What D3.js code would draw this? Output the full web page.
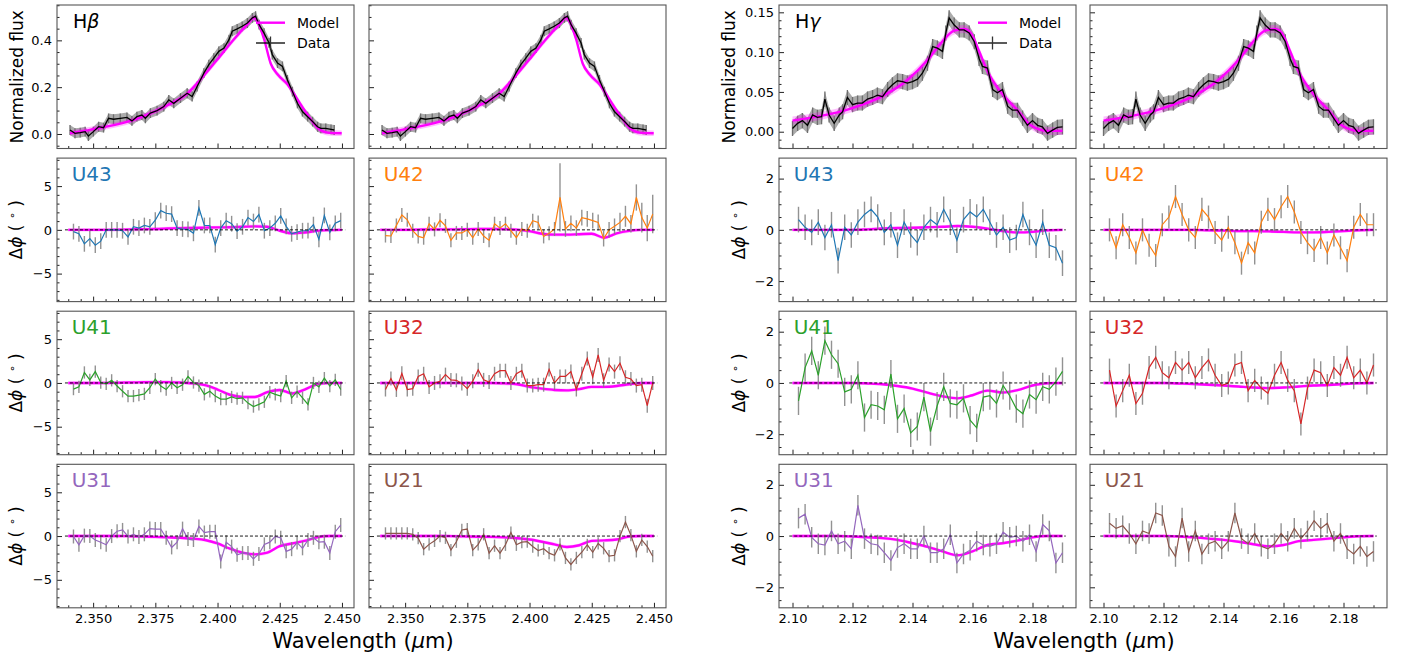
<!DOCTYPE html>
<html>
<head>
<meta charset="utf-8">
<script src="https://cdn.jsdelivr.net/npm/d3@7"></script>
<style>
body { margin: 0; background: #fff; }
text { font-family: "DejaVu Sans", sans-serif; }
</style>
</head>
<body>
<svg id="chart" width="1411" height="664"></svg>
<script>
//=======================================================================
// data
var baselines  = ["U43", "U42", "U41", "U32", "U31", "U21"];
var baseColors = ["#1f77b4", "#ff7f0e", "#2ca02c", "#d62728", "#9467bd", "#8c564b"];

// ---- H beta : normalized flux [wavelength, flux]
var hbFluxData = [[2.3407,0.017],[2.3427,0.003],[2.3448,0.006],[2.3468,0.010],[2.3481,-0.009],[2.3501,0.010],
  [2.3522,0.031],[2.3542,0.027],[2.3562,0.067],[2.3582,0.063],[2.3609,0.067],[2.3636,0.071],[2.3656,0.056],
  [2.3676,0.074],[2.3696,0.081],[2.3710,0.067],[2.3730,0.089],[2.3757,0.100],[2.3784,0.117],[2.3804,0.146],
  [2.3824,0.131],[2.3851,0.153],[2.3878,0.174],[2.3898,0.160],[2.3918,0.203],[2.3945,0.260],[2.3965,0.296],
  [2.3985,0.324],[2.4005,0.353],[2.4026,0.367],[2.4046,0.403],[2.4059,0.439],[2.4079,0.449],[2.4099,0.460],
  [2.4120,0.474],[2.4140,0.496],[2.4153,0.503],[2.4167,0.467],[2.4187,0.431],[2.4207,0.389],[2.4220,0.339],
  [2.4241,0.303],[2.4261,0.289],[2.4281,0.231],[2.4301,0.181],[2.4321,0.131],[2.4341,0.096],[2.4362,0.074],
  [2.4382,0.053],[2.4402,0.031],[2.4415,0.024],[2.4435,0.024],[2.4456,0.020],[2.4469,0.017]];
var hbFluxModel = [[2.3407,0.003],[2.3528,0.026],[2.3663,0.060],[2.3797,0.122],[2.3878,0.172],[2.3931,0.232],
  [2.3999,0.318],[2.4066,0.405],[2.4120,0.468],[2.4146,0.496],[2.4160,0.482],[2.4187,0.405],[2.4214,0.300],
  [2.4241,0.255],[2.4281,0.212],[2.4321,0.148],[2.4362,0.082],[2.4402,0.026],[2.4442,0.006],[2.4499,0.003]];
var hbFluxErr = 0.021;
var hbFluxModelBand = 0.012;

// ---- H beta : differential phases (deg), 50 points from 2.3421 to 2.4495 um
var hbPhiRange = [2.3421, 2.4495];
var hbPhiU43 = [-0.2,-0.45,-1.6,-1.0,-1.75,-1.3,0,0,0,-0.1,-0.8,0.35,0.2,0.5,0.35,1.1,2.2,1.9,1.8,0.2,
  0.1,0.05,-0.4,2.5,0.5,0.5,-1.7,0.2,1.05,0.7,-0.15,0.35,1.4,0.95,1.75,-0.1,0.2,0.75,1.6,0.4,
  -0.45,-0.25,-0.1,-0.1,0.6,-1.1,1.65,-0.3,0.75,1.05];
var hbPhiU42 = [-0.65,-0.7,0.5,1.7,1.15,-0.1,-0.75,-0.9,0.7,0.05,1.1,0.45,-1.2,-0.35,-0.35,0,-0.9,0.1,-0.7,-1.2,
  0.7,0.2,0.7,-0.1,-0.9,0.1,-0.1,1.05,0.85,-0.75,-0.4,0.1,3.7,0.1,0.75,0.2,1.4,1.25,1.05,0.85,
  -1.0,0,0.4,0.85,1.55,0.7,3.7,1.4,0.2,1.8];
var hbPhiU41 = [-0.7,-0.45,1.2,0.35,1.3,0.05,-0.1,0.3,-0.35,-0.95,-1.5,-1.5,-1.4,-1.25,-0.55,0.45,-0.35,-0.75,0,-0.55,
  -0.2,0.75,0.05,-0.3,-1.3,-0.95,-1.5,-1.85,-1.85,-1.6,-1.8,-1.7,-2.3,-2.7,-2.45,-2.15,-1.05,-1.3,-1.5,0.2,
  -1.7,-1.0,-1.7,-2.45,0,-0.45,0.55,-0.35,0.35,-0.75];
var hbPhiU32 = [-0.75,0.5,-0.8,1.1,-0.75,-0.65,0.75,1.05,-0.45,0,0.2,0.95,0.35,0.3,-0.05,-0.65,0.2,1.5,0.35,0.1,
  1.05,1.4,1.4,0,1.05,1.4,-0.3,-0.3,-0.2,-0.2,1.55,0,0.75,0.75,1.3,-0.75,1.05,2.8,0.65,3.2,
  0.3,2.1,1.3,2.25,0.65,0.45,-0.3,-0.2,-2.6,0];
var hbPhiU31 = [-0.05,-1.0,0.05,0,-0.45,-0.7,-1.0,0,0.55,0.7,-0.05,0.2,-0.1,0.2,0.85,0.8,0.8,-0.2,-1.3,-0.7,
  0.85,-0.35,-0.45,1.1,0.4,0.5,0.5,-2.9,-0.7,-1.2,-2.15,-1.95,-1.95,-2.6,-2.05,-0.95,-0.7,-0.05,-0.2,-1.75,
  -1.5,-0.75,-1.4,-0.45,-0.2,-0.7,-0.65,-1.95,0.5,1.25];
var hbPhiU21 = [0.3,0.3,0.3,0.3,0.3,0.2,-0.25,-1.5,-0.95,-0.55,0,-0.2,-1.6,-0.65,0.7,0.8,-1.6,-0.95,0.2,-1.95,
  -1.1,-1.95,-1.0,0.4,-1.0,-0.7,-0.65,-1.2,-1.65,-1.45,-1.95,-2.2,-0.95,-2.5,-3.25,-2.5,-1.85,-1.0,-1.85,-0.85,
  -1.4,-2.3,-2.2,0,1.6,0.1,-1.75,-0.45,-1.2,-2.3];
var hbPhiErr = [0.9, 0.85, 0.7, 0.8, 0.8, 0.7];
var hbErrU42 = [0.8,0.8,0.8,0.8,0.8,0.8,0.8,0.8,0.8,0.8,0.8,0.8,0.8,0.8,0.8,0.8,0.8,0.8,0.8,0.8,
  0.8,0.8,0.8,0.8,0.8,0.8,0.8,0.8,0.8,0.8,0.8,0.8,3.9,0.9,0.9,0.9,0.9,0.9,0.9,0.9,
  0.9,0.9,0.9,1.1,1.2,1.0,1.5,1.7,1.5,2.2];

// model phases on a 0.005 um grid
var hbModelWave = [2.340,2.345,2.350,2.355,2.360,2.365,2.370,2.375,2.380,2.385,2.390,2.395,
  2.400,2.405,2.410,2.415,2.420,2.425,2.430,2.435,2.440,2.445,2.450];
var hbModU43 = [0,0,0,0,0.02,0.05,0.08,0.1,0.15,0.2,0.22,0.25,0.28,0.3,0.35,0.4,0.35,-0.1,-0.4,-0.3,-0.12,-0.03,0];
var hbModU42 = [0,0,0,0.02,0.05,0.05,0.05,0.08,0.1,0.1,0.08,0.02,-0.15,-0.45,-0.55,-0.55,-0.5,-0.45,-0.9,-0.4,-0.12,0,0];
var hbModU41 = [0,0,0,0,0.03,0.05,0.08,0.1,0.1,0.05,-0.05,-0.25,-0.75,-1.35,-1.6,-1.6,-1.05,-0.8,-1.2,-0.75,-0.15,0,0];
var hbModU32 = [0,0,0,0,0,0,0,0,0,0,-0.05,-0.15,-0.45,-0.65,-0.8,-0.85,-0.7,-0.45,-0.45,-0.35,-0.15,0,0];
var hbModU31 = [0,0,0,0,0,-0.02,-0.05,-0.1,-0.15,-0.2,-0.3,-0.45,-0.85,-1.45,-1.9,-2.1,-1.9,-1.15,-0.85,-0.55,-0.15,0,0];
var hbModU21 = [0,0,0,0,0,0,-0.02,-0.05,-0.08,-0.1,-0.15,-0.25,-0.4,-0.65,-0.95,-1.25,-1.05,-0.55,-0.5,-0.4,-0.05,0,0];
var hbModelBand = 0.2;

// ---- H gamma : normalized flux
var hgFluxData = [[2.1000,0.004],[2.1017,0.0105],[2.1033,0.014],[2.1050,0.008],[2.1067,0.021],[2.1083,0.018],
  [2.1097,0.019],[2.1108,0.041],[2.1122,0.021],[2.1139,0.0105],[2.1156,0.021],[2.1167,0.025],[2.1183,0.043],
  [2.1200,0.034],[2.1217,0.036],[2.1233,0.036],[2.1250,0.041],[2.1267,0.043],[2.1283,0.046],[2.1300,0.044],
  [2.1317,0.053],[2.1333,0.059],[2.1350,0.064],[2.1367,0.063],[2.1383,0.061],[2.1400,0.063],[2.1417,0.066],
  [2.1433,0.0735],[2.1450,0.086],[2.1467,0.107],[2.1483,0.105],[2.1500,0.101],[2.1511,0.124],[2.1522,0.143],
  [2.1539,0.134],[2.1556,0.128],[2.1572,0.128],[2.1589,0.124],[2.1606,0.113],[2.1622,0.092],[2.1633,0.082],
  [2.1650,0.080],[2.1667,0.053],[2.1683,0.049],[2.1700,0.053],[2.1717,0.032],[2.1733,0.027],[2.1750,0.027],
  [2.1767,0.017],[2.1783,0.008],[2.1800,0.014],[2.1817,0.008],[2.1833,0.006],[2.1850,-0.002],[2.1867,0.002],
  [2.1883,0.0055],[2.1900,0.006]];
var hgFluxModel = [[2.1000,0.014],[2.1083,0.019],[2.1194,0.029],[2.1306,0.046],[2.1383,0.065],[2.1450,0.090],
  [2.1494,0.111],[2.1539,0.127],[2.1572,0.129],[2.1594,0.124],[2.1622,0.101],[2.1650,0.076],[2.1694,0.050],
  [2.1750,0.027],[2.1794,0.008],[2.1850,0.001],[2.1900,0.001]];
var hgFluxErr = 0.0095;
var hgFluxModelBand = 0.005;

// ---- H gamma : differential phases, 41 points from 2.102 to 2.190 um
var hgPhiRange = [2.102, 2.190];
var hgPhiU43 = [0.4,0.1,-0.1,0.3,-0.3,0.2,-1.2,0.1,-0.2,0.3,0.6,0.8,0.5,-0.1,0.2,-0.6,0.3,-0.2,-0.5,0.1,
  0.4,0.2,0.8,0.3,-0.4,0.4,0.7,0.5,0.8,0.3,-0.2,0.1,-0.4,-0.3,0.6,-0.1,-0.6,0.3,-0.6,-0.7,-1.3];
var hgPhiU42 = [0,-0.7,0.2,-0.3,-0.9,0,-0.6,-1.0,0.2,0.5,1.3,0.6,0,-0.3,0.8,0.5,-0.1,-0.4,0.1,-0.5,
  -1.3,-0.5,-0.9,0.3,0.8,0.4,0.9,1.3,0.7,-0.1,-0.5,-0.8,-0.3,-0.9,-0.2,-0.7,-1.2,0.1,0.6,0.2,0.2];
var hgPhiU41 = [-0.7,0.6,1.25,0.3,1.65,1.1,0.75,-0.35,-0.25,0.3,-1.35,-0.85,-0.9,-1.05,0.35,-1.4,-1.0,-1.95,-1.7,-0.55,
  -1.9,-0.9,-0.15,-0.8,-0.85,-0.6,-1.45,-1.75,-0.55,-0.5,-0.8,-0.1,-0.5,-1.0,-1.2,-0.45,-0.65,-0.15,-0.25,0.05,0.45];
var hgPhiU32 = [0.5,-0.9,-0.3,0.3,-0.8,-0.4,0.6,1.0,0.4,0.2,0.8,0.5,0.8,0.2,0.6,0.9,0.3,-0.1,0,0.7,
  0.8,-0.3,0.1,-0.2,-0.4,0.3,0.8,0.1,-0.3,-1.6,-0.2,0.5,0.4,-0.1,0.6,0.3,1.0,0.2,0.5,0,0.7];
var hgPhiU31 = [0.7,0.85,-0.05,-0.3,-0.35,0.2,-0.3,-0.2,-0.5,1.2,-0.1,-0.3,-0.35,-0.65,-0.95,-0.45,-0.3,-0.5,-0.5,0,
  -0.65,-0.65,-0.5,0.05,-1.05,-0.7,-0.55,-0.2,-0.35,-0.4,-0.3,0.15,-0.05,0,-0.2,0.05,-0.6,0.45,0.2,-1.05,-0.65];
var hgPhiU21 = [0.5,0.3,0.4,0.1,-0.3,0.2,0.1,0.9,0.8,-0.4,-0.8,0.7,-0.6,0.2,-0.7,-0.3,-0.2,-0.5,-0.2,0.9,
  -0.1,-0.3,0.1,-0.4,-0.5,-0.3,0.1,-0.2,0.3,-0.1,0.2,0.6,0.3,0.5,-0.2,0.1,-0.5,-0.7,-0.4,-0.8,-0.6];
var hgPhiErr = [0.5, 0.45, 0.55, 0.45, 0.4, 0.4];

var hgModelWave = [2.100,2.105,2.110,2.115,2.120,2.125,2.130,2.135,2.140,2.145,2.150,2.155,2.160,
  2.165,2.170,2.175,2.180,2.185,2.190];
var hgModU43 = [0,0,0,0,0,0.02,0.05,0.07,0.08,0.1,0.12,0.15,0.12,0.05,-0.05,-0.1,-0.08,-0.02,0];
var hgModU42 = [0,0,0,0,0,0,0,-0.02,-0.03,-0.05,-0.05,-0.06,-0.08,-0.1,-0.1,-0.08,-0.05,-0.02,0];
var hgModU41 = [0,0,0,0,0,-0.02,-0.05,-0.12,-0.22,-0.38,-0.52,-0.6,-0.48,-0.3,-0.37,-0.28,-0.1,-0.01,0];
var hgModU32 = [0,0,0,0,0,-0.02,-0.04,-0.07,-0.1,-0.14,-0.18,-0.2,-0.18,-0.14,-0.1,-0.08,-0.04,-0.01,0];
var hgModU31 = [0,0,0,0,-0.02,-0.05,-0.08,-0.15,-0.28,-0.42,-0.6,-0.75,-0.6,-0.35,-0.28,-0.18,-0.05,0,0];
var hgModU21 = [0,0,0,0,0,-0.02,-0.05,-0.1,-0.15,-0.22,-0.32,-0.4,-0.35,-0.2,-0.15,-0.1,-0.05,-0.01,0];
var hgModelBand = 0.06;

//-----------------------------------------------------------------------
var panelW = 297, panelH = 143.5;
var rowTop = [5, 158.1, 311.2, 464.3];
var MAGENTA = "#ff00ff";

var groups = [
  { line: "β", colX: [57, 369], xDom: [2.33548, 2.45484], xMajor: 0.025, xMinor: 0.005, xFmt: ".3f",
    fluxDom: [-0.062, 0.551], fluxMajor: 0.2, fluxMinor: 0.05, fluxFmt: ".1f",
    phiDom: [-8.2, 8.2], phiMajor: 5, phiMinor: 1,
    fluxData: hbFluxData, fluxModel: hbFluxModel, fluxErr: hbFluxErr, fluxBand: hbFluxModelBand,
    phiRange: hbPhiRange, phis: [hbPhiU43, hbPhiU42, hbPhiU41, hbPhiU32, hbPhiU31, hbPhiU21],
    errs: [null, hbErrU42, null, null, null, null], errConst: hbPhiErr,
    modelWave: hbModelWave, models: [hbModU43, hbModU42, hbModU41, hbModU32, hbModU31, hbModU21], band: hbModelBand,
    fluxLabelX: 23, phiLabelX: 22, xLabelX: 363 },
  { line: "γ", colX: [779, 1090], xDom: [2.0955, 2.1945], xMajor: 0.02, xMinor: 0.005, xFmt: ".2f",
    fluxDom: [-0.0211, 0.1592], fluxMajor: 0.05, fluxMinor: 0.01, fluxFmt: ".2f",
    phiDom: [-2.8, 2.8], phiMajor: 2, phiMinor: 0.5,
    fluxData: hgFluxData, fluxModel: hgFluxModel, fluxErr: hgFluxErr, fluxBand: hgFluxModelBand,
    phiRange: hgPhiRange, phis: [hgPhiU43, hgPhiU42, hgPhiU41, hgPhiU32, hgPhiU31, hgPhiU21],
    errs: [null, null, null, null, null, null], errConst: hgPhiErr,
    modelWave: hgModelWave, models: [hgModU43, hgModU42, hgModU41, hgModU32, hgModU31, hgModU21], band: hgModelBand,
    fluxLabelX: 735, phiLabelX: 745, xLabelX: 1084 }
];

var svg = d3.select("#chart");
var defs = svg.append("defs");
var clipN = 0;

function f_tickVals(dom, step)
{
	var a = Math.ceil(dom[0] / step - 1e-9), b = Math.floor(dom[1] / step + 1e-9);
	return d3.range(a, b + 1).map(function(k){ return +(k * step).toFixed(6); });
}
function f_minorVals(dom, step, major)
{
	return f_tickVals(dom, step).filter(function(v){ return Math.abs(v / major - Math.round(v / major)) > 1e-6; });
}

function f_axes(g, x, y, o)
{
	var xb = g.append("g").attr("transform", "translate(0," + panelH + ")");
	xb.call(d3.axisBottom(x).tickValues(f_tickVals(x.domain(), o.xMajor)).tickSize(-5).tickPadding(6)
		.tickFormat(o.showX ? d3.format(o.xFmt) : ""));
	xb.append("g").call(d3.axisBottom(x).tickValues(f_minorVals(x.domain(), o.xMinor, o.xMajor)).tickSize(-2.5).tickFormat(""));

	var yb = g.append("g");
	yb.call(d3.axisLeft(y).tickValues(f_tickVals(y.domain(), o.yMajor)).tickSize(-5).tickPadding(5)
		.tickFormat(o.showY ? d3.format(o.yFmt) : ""));
	yb.append("g").call(d3.axisLeft(y).tickValues(f_minorVals(y.domain(), o.yMinor, o.yMajor)).tickSize(-2.5).tickFormat(""));

	g.selectAll(".domain").remove();
	g.selectAll(".tick line").attr("stroke", "#222").attr("stroke-width", 1);
	g.selectAll(".tick text").attr("font-size", 13).attr("fill", "#000")
		.attr("font-family", "DejaVu Sans, sans-serif");
	g.append("rect").attr("width", panelW).attr("height", panelH)
		.attr("fill", "none").attr("stroke", "#555").attr("stroke-width", 1.1);
}

function f_clip(g)
{
	var id = "clip" + (clipN++);
	defs.append("clipPath").attr("id", id).append("rect").attr("width", panelW).attr("height", panelH);
	return g.append("g").attr("clip-path", "url(#" + id + ")");
}

function f_fluxPanel(grp, col)
{
	var g = svg.append("g").attr("transform", "translate(" + grp.colX[col] + "," + rowTop[0] + ")");
	var x = d3.scaleLinear().domain(grp.xDom).range([0, panelW]);
	var y = d3.scaleLinear().domain(grp.fluxDom).range([panelH, 0]);
	var c = f_clip(g);

	// data error band (grey error bars)
	c.append("path").datum(grp.fluxData)
		.attr("d", d3.area().x(function(d){return x(d[0]);})
			.y0(function(d){return y(d[1] - grp.fluxErr);}).y1(function(d){return y(d[1] + grp.fluxErr);}))
		.attr("fill", "#8f8f8f").attr("opacity", 0.75);
	c.selectAll("line.eb").data(grp.fluxData).enter().append("line")
		.attr("x1", function(d){return x(d[0]);}).attr("x2", function(d){return x(d[0]);})
		.attr("y1", function(d){return y(d[1] - grp.fluxErr);}).attr("y2", function(d){return y(d[1] + grp.fluxErr);})
		.attr("stroke", "#6e6e6e").attr("stroke-width", 1.3);

	// model
	c.append("path").datum(grp.fluxModel)
		.attr("d", d3.area().curve(d3.curveMonotoneX).x(function(d){return x(d[0]);})
			.y0(function(d){return y(d[1] - grp.fluxBand);}).y1(function(d){return y(d[1] + grp.fluxBand);}))
		.attr("fill", MAGENTA).attr("opacity", 0.25);
	c.append("path").datum(grp.fluxModel)
		.attr("d", d3.line().curve(d3.curveMonotoneX).x(function(d){return x(d[0]);}).y(function(d){return y(d[1]);}))
		.attr("fill", "none").attr("stroke", MAGENTA).attr("stroke-width", 2.4);

	// data
	c.append("path").datum(grp.fluxData)
		.attr("d", d3.line().x(function(d){return x(d[0]);}).y(function(d){return y(d[1]);}))
		.attr("fill", "none").attr("stroke", "#000").attr("stroke-width", 1.3);

	f_axes(g, x, y, { xMajor: grp.xMajor, xMinor: grp.xMinor, xFmt: grp.xFmt, showX: false,
		yMajor: grp.fluxMajor, yMinor: grp.fluxMinor, yFmt: grp.fluxFmt, showY: col === 0 });

	if (col === 0)
	{
		var t = g.append("text").attr("x", 16).attr("y", 23.3).attr("font-size", 19).attr("fill", "#000");
		t.append("tspan").text("H");
		t.append("tspan").attr("font-style", "italic").text(grp.line);

		// legend
		g.append("line").attr("x1", 199).attr("x2", 228).attr("y1", 17.7).attr("y2", 17.7)
			.attr("stroke", MAGENTA).attr("stroke-width", 2.4);
		g.append("text").attr("x", 240).attr("y", 22.7).attr("font-size", 14).text("Model");
		g.append("line").attr("x1", 199).attr("x2", 228).attr("y1", 38).attr("y2", 38)
			.attr("stroke", "#000").attr("stroke-width", 1.3);
		g.append("line").attr("x1", 213.5).attr("x2", 213.5).attr("y1", 31.5).attr("y2", 44.5)
			.attr("stroke", "#333").attr("stroke-width", 1.3);
		g.append("text").attr("x", 240).attr("y", 43).attr("font-size", 14).text("Data");

		svg.append("text")
			.attr("transform", "translate(" + grp.fluxLabelX + "," + (rowTop[0] + panelH / 2) + ") rotate(-90)")
			.attr("text-anchor", "middle").attr("font-size", 17).text("Normalized flux");
	}
}

function f_phasePanel(grp, b)
{
	var row = 1 + Math.floor(b / 2), col = b % 2;
	var g = svg.append("g").attr("transform", "translate(" + grp.colX[col] + "," + rowTop[row] + ")");
	var x = d3.scaleLinear().domain(grp.xDom).range([0, panelW]);
	var y = d3.scaleLinear().domain(grp.phiDom).range([panelH, 0]);
	var c = f_clip(g);

	var vals = grp.phis[b];
	var n = vals.length;
	var step = (grp.phiRange[1] - grp.phiRange[0]) / (n - 1);
	var pts = vals.map(function(v, i){
		var e = grp.errs[b] ? grp.errs[b][i] : grp.errConst[b];
		return { w: grp.phiRange[0] + i * step, v: v, e: e };
	});
	var mod = grp.modelWave.map(function(w, i){ return { w: w, v: grp.models[b][i] }; });

	// model
	c.append("path").datum(mod)
		.attr("d", d3.area().curve(d3.curveMonotoneX).x(function(d){return x(d.w);})
			.y0(function(d){return y(d.v - grp.band);}).y1(function(d){return y(d.v + grp.band);}))
		.attr("fill", MAGENTA).attr("opacity", 0.22);
	c.append("path").datum(mod)
		.attr("d", d3.line().curve(d3.curveMonotoneX).x(function(d){return x(d.w);}).y(function(d){return y(d.v);}))
		.attr("fill", "none").attr("stroke", MAGENTA).attr("stroke-width", 2.4);

	// error bars
	c.selectAll("line.eb").data(pts).enter().append("line")
		.attr("x1", function(d){return x(d.w);}).attr("x2", function(d){return x(d.w);})
		.attr("y1", function(d){return y(d.v - d.e);}).attr("y2", function(d){return y(d.v + d.e);})
		.attr("stroke", "#808080").attr("stroke-width", 1.4).attr("opacity", 0.85);

	// data line
	c.append("path").datum(pts)
		.attr("d", d3.line().x(function(d){return x(d.w);}).y(function(d){return y(d.v);}))
		.attr("fill", "none").attr("stroke", baseColors[b]).attr("stroke-width", 1.2);

	// zero line
	var w0 = grp.modelWave[0], w1 = grp.modelWave[grp.modelWave.length - 1], pad = (w1 - w0) * 0.012;
	c.append("line").attr("x1", x(w0 - pad)).attr("x2", x(w1 + pad)).attr("y1", y(0)).attr("y2", y(0))
		.attr("stroke", "#000").attr("stroke-width", 0.9).attr("stroke-dasharray", "3,2");

	f_axes(g, x, y, { xMajor: grp.xMajor, xMinor: grp.xMinor, xFmt: grp.xFmt, showX: row === 3,
		yMajor: grp.phiMajor, yMinor: grp.phiMinor, yFmt: "d", showY: col === 0 });

	g.append("text").attr("x", 14.7).attr("y", 23).attr("font-size", 20)
		.attr("fill", baseColors[b]).text(baselines[b]);

	if (col === 0)
	{
		var t = svg.append("text")
			.attr("transform", "translate(" + grp.phiLabelX + "," + (rowTop[row] + panelH / 2) + ") rotate(-90)")
			.attr("text-anchor", "middle").attr("font-size", 17);
		t.append("tspan").text("Δ");
		t.append("tspan").attr("font-style", "italic").text("ϕ");
		t.append("tspan").text(" ( ");
		t.append("tspan").attr("font-size", 11).attr("dy", -6).text("∘");
		t.append("tspan").attr("dy", 6).text(" )");
	}
}

groups.forEach(function(grp){
	f_fluxPanel(grp, 0);
	f_fluxPanel(grp, 1);
	for (var b = 0; b < baselines.length; b++) f_phasePanel(grp, b);

	var xl = svg.append("text").attr("x", grp.xLabelX).attr("y", 648.3)
		.attr("text-anchor", "middle").attr("font-size", 21);
	xl.append("tspan").text("Wavelength (");
	xl.append("tspan").attr("font-style", "italic").text("μ");
	xl.append("tspan").text("m)");
});
//=======================================================================
</script>
</body>
</html>
